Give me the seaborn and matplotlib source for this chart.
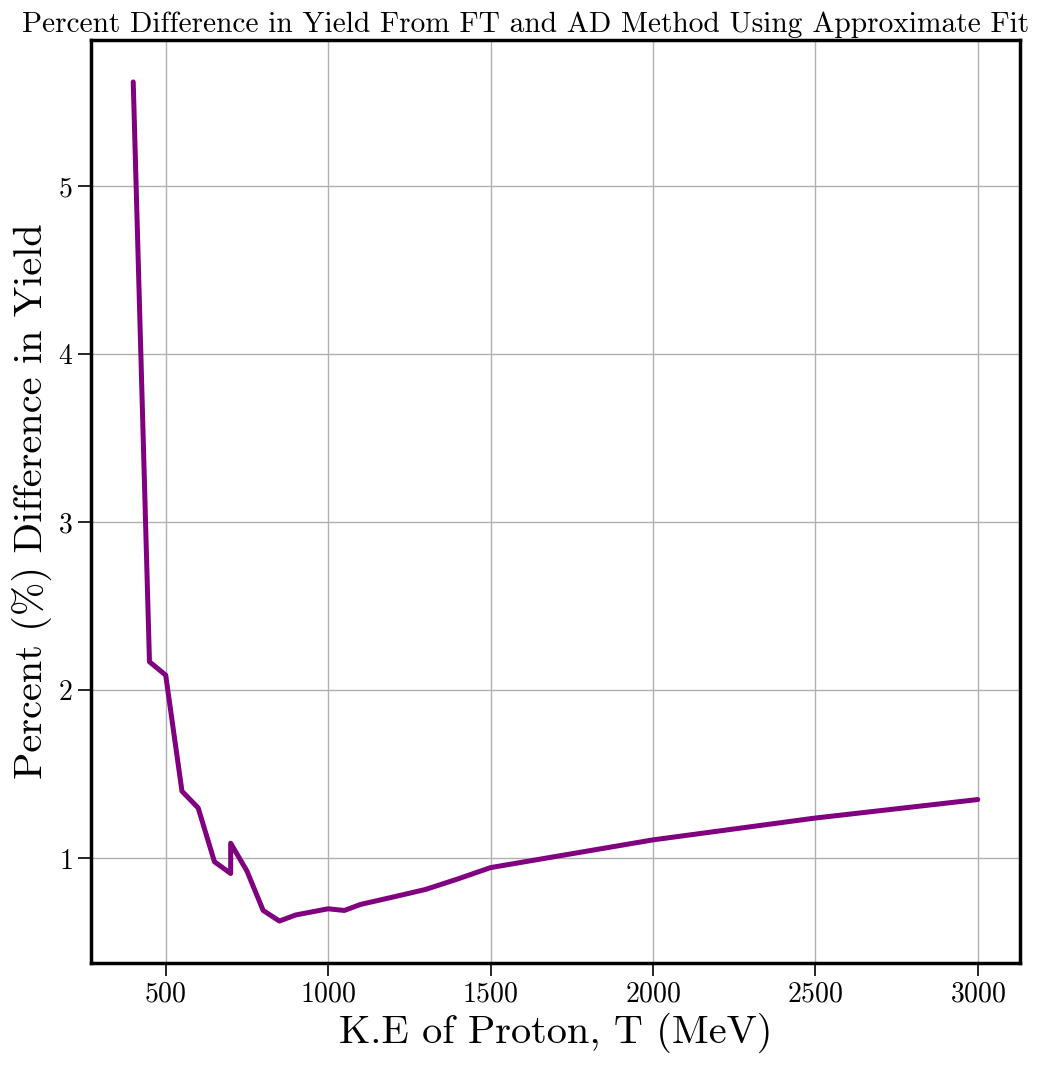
import matplotlib
matplotlib.use("Agg")
import matplotlib.pyplot as plt
import pandas as pd
import seaborn as sns

# Proton kinetic energy (MeV) and percent difference in yield
energy = [400, 450, 500, 550, 600, 650, 700, 700, 750, 800, 850, 900, 1000, 1050,
          1100, 1200, 1300, 1400, 1500, 2000, 2500, 3000]
pct_diff = [5.62, 2.17, 2.09, 1.40, 1.30, 0.98, 0.91, 1.09, 0.925, 0.69, 0.627, 0.663,
            0.70, 0.69, 0.726, 0.77, 0.815, 0.878, 0.945, 1.11, 1.24, 1.35]

df = pd.DataFrame({"T": energy, "pct": pct_diff})

sns.set_style("white")
plt.rcParams["font.family"] = ["cmr10", "DejaVu Serif"]
plt.rcParams["mathtext.fontset"] = "cm"
plt.rcParams["axes.formatter.use_mathtext"] = True
for key in ["text.color", "axes.labelcolor", "xtick.color", "ytick.color"]:
    plt.rcParams[key] = "black"

fig, ax = plt.subplots(figsize=(10.41, 10.66), dpi=100)
fig.subplots_adjust(left=91 / 1041, right=1020 / 1041, top=1 - 40 / 1066, bottom=1 - 963 / 1066)

sns.lineplot(data=df, x="T", y="pct", ax=ax, color="purple", linewidth=3.6,
             estimator=None, sort=False)

ax.grid(True, color="#b0b0b0", linewidth=1)
ax.set_axisbelow(True)
for sp in ax.spines.values():
    sp.set_color("black")
    sp.set_linewidth(2.5)
ax.tick_params(axis="both", which="major", direction="out", length=9.5, width=1.2,
               labelsize=20, color="black", left=True, bottom=True)

ax.set_xticks([500, 1000, 1500, 2000, 2500, 3000])
ax.set_yticks([1, 2, 3, 4, 5])

# title is slightly left of the axes centre in the reference
ax.set_title("Percent Difference in Yield From FT and AD Method Using Approximate Fit",
             fontsize=21.2, x=(526 - 91) / 929)
ax.set_xlabel("K.E of Proton, T (MeV)", fontsize=29)
ax.set_ylabel("Percent (%) Difference in Yield", fontsize=29)

fig.savefig("out.png", dpi=100)
